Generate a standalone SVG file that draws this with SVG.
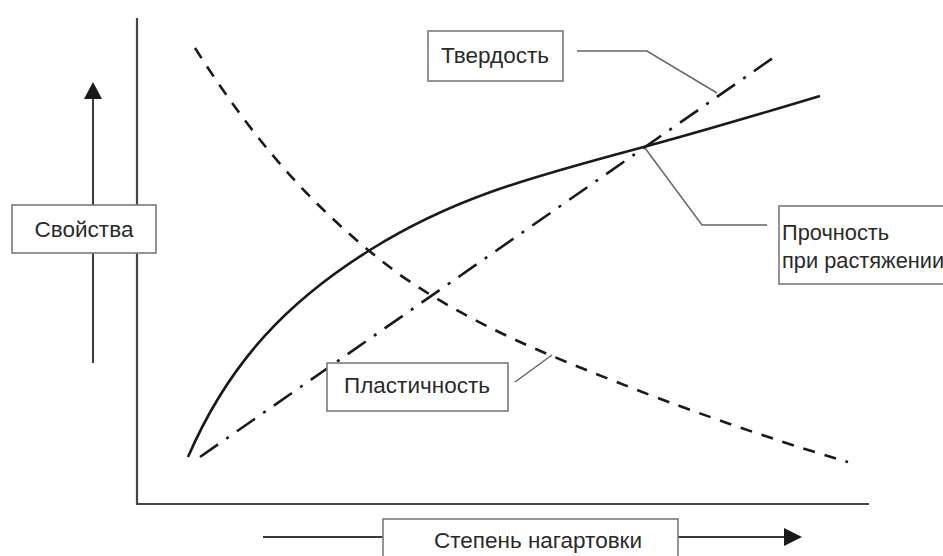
<svg xmlns="http://www.w3.org/2000/svg" width="943" height="556" viewBox="0 0 943 556">
<defs>
<style>
.box{fill:#fff;stroke:#7a7a7a;stroke-width:1.6}
.lbl{font-family:"Liberation Sans",Arial,sans-serif;font-size:22.5px;fill:#2a2a2a}
.sm{font-size:21.8px}
.axis{stroke:#444;stroke-width:2.2;fill:none}
.shaft{stroke:#3a3a3a;stroke-width:2;fill:none}
.lead{stroke:#666;stroke-width:1.5;fill:none}
.curve{stroke:#1a1a1a;stroke-width:2.6;fill:none}
</style>
</defs>
<rect width="943" height="556" fill="#fff"/>
<g id="connectors">
<path class="axis" d="M137,18 V504 H869"/>
<path class="shaft" d="M93,363 V96"/>
<polygon points="93,82 84,99 102,99" fill="#1a1a1a"/>
<path class="shaft" d="M263,537 H786"/>
<polygon points="802,537 784,528 784,546" fill="#1a1a1a"/>
<path class="curve" d="M188,457 C230,360 290,300 370,250 C450,200 520,180 640,148 C700,132 760,114 820,96"/>
<path class="curve" stroke-dasharray="12 10" d="M195,48 C260,150 320,215 400,275 C480,330 560,360 650,395 C730,425 790,445 848,462"/>
<path class="curve" stroke-dasharray="22 10 3 10" d="M200,457 L780,53"/>
<path class="lead" d="M577,51 H647 L717,93"/>
<path class="lead" d="M645,148 L702,225 H767"/>
<path class="lead" d="M515,382 L552,355"/>
</g>
<g id="svoistva">
<rect class="box" x="12" y="205" width="144" height="48"/>
<text class="lbl" x="84" y="237" text-anchor="middle">Свойства</text>
</g>
<g id="stepen">
<rect class="box" x="383" y="519" width="295" height="60"/>
<text class="lbl" x="538" y="548" text-anchor="middle">Степень нагартовки</text>
</g>
<g id="tverdost">
<rect class="box" x="428" y="31" width="135" height="50"/>
<text class="lbl" x="495" y="63" text-anchor="middle">Твердость</text>
</g>
<g id="prochnost">
<rect class="box" x="779" y="206" width="200" height="78"/>
<text class="lbl sm" x="782" y="240">Прочность</text>
<text class="lbl sm" x="782" y="268">при растяжении</text>
</g>
<g id="plastichnost">
<rect class="box" x="327" y="363" width="181" height="48"/>
<text class="lbl" x="417" y="393" text-anchor="middle">Пластичность</text>
</g>
</svg>
